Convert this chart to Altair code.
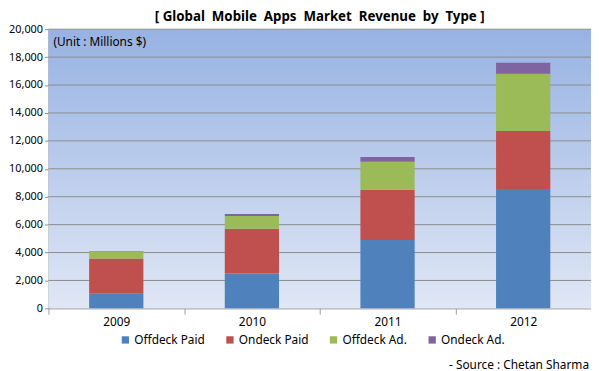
import altair as alt
import pandas as pd

years = ["2009", "2010", "2011", "2012"]
types = ["Offdeck Paid", "Ondeck Paid", "Offdeck Ad.", "Ondeck Ad."]
offdeck_paid = [1050, 2500, 4900, 8550]
ondeck_paid = [2530, 3200, 3600, 4150]
offdeck_ad = [480, 920, 2000, 4100]
ondeck_ad = [40, 140, 350, 800]
colors = ["#4F81BD", "#C0504D", "#9BBB59", "#8064A2"]
y_ticks = list(range(0, 20001, 2000))
title_text = "[ Global\u00a0 Mobile\u00a0 Apps\u00a0 Market\u00a0 Revenue\u00a0 by\u00a0 Type ]"
unit_text = "(Unit : Millions $)"
source_text = "- Source : Chetan Sharma"

series = [offdeck_paid, ondeck_paid, offdeck_ad, ondeck_ad]
rows = []
for i, t in enumerate(types):
    for yr, v in zip(years, series[i]):
        rows.append({"year": yr, "type": t, "value": v, "idx": i})
df = pd.DataFrame(rows)

W, H = 550, 283
FONT = "Noto Sans"

yscale = alt.Scale(domain=[0, 20000], nice=False)
xscale = alt.Scale(domain=years, paddingInner=0, paddingOuter=0)
yaxis = alt.Axis(title=None, values=y_ticks, format=",d", grid=False,
                 domainColor="#8c8c8c", tickColor="#8c8c8c",
                 tickSize=4, labelFontSize=11, labelColor="#000000",
                 labelFont=FONT, labelPadding=2)

bg = alt.Chart(pd.DataFrame({"a": [0]})).mark_rect(
    color=alt.LinearGradient(
        gradient="linear",
        stops=[alt.GradientStop(color="#97b2e3", offset=0),
               alt.GradientStop(color="#e0e7f5", offset=1)],
        x1=0, x2=0, y1=0, y2=1,
    )
).encode(x=alt.value(0), x2=alt.value(W), y=alt.value(0), y2=alt.value(H))

grid = alt.Chart(pd.DataFrame({"value": y_ticks[1:]})).mark_rule(
    color="#8c8c8c", strokeWidth=1
).encode(y=alt.Y("value:Q", scale=yscale, axis=yaxis))

bars = alt.Chart(df).mark_bar(size=55).encode(
    x=alt.X("year:N", scale=xscale, sort=years,
            axis=alt.Axis(title=None, labelAngle=0, tickBand="extent",
                          domainColor="#8c8c8c", tickColor="#a0a0a0",
                          tickSize=6, labelFontSize=12, labelColor="#000000",
                          labelFont=FONT, labelPadding=2)),
    y=alt.Y("value:Q", scale=yscale, stack="zero", axis=yaxis),
    color=alt.Color("type:N", scale=alt.Scale(domain=types, range=colors),
                    legend=alt.Legend(
                        title=None, orient="none", direction="horizontal",
                        legendX=72, legendY=309, symbolType="square",
                        symbolSize=55, symbolStrokeWidth=0, labelFontSize=12,
                        labelFont=FONT, labelColor="#000000", columnPadding=19,
                        labelOffset=3)),
    order=alt.Order("idx:Q", sort="ascending"),
)

title = alt.Chart(pd.DataFrame({"t": [title_text]})).mark_text(
    align="center", baseline="alphabetic", fontSize=13.5, font=FONT,
    fontWeight="bold", color="#000000"
).encode(x=alt.value(W / 2), y=alt.value(-8), text="t:N")

unit = alt.Chart(pd.DataFrame({"t": [unit_text]})).mark_text(
    align="left", baseline="middle", fontSize=12, font=FONT, color="#000000"
).encode(x=alt.value(5), y=alt.value(13), text="t:N")

source = alt.Chart(pd.DataFrame({"t": [source_text]})).mark_text(
    align="right", baseline="middle", fontSize=12, font=FONT, color="#000000"
).encode(x=alt.value(W - 2), y=alt.value(H + 57), text="t:N")

chart = alt.layer(bg, grid, bars, title, unit, source).properties(
    width=W, height=H,
    autosize=alt.AutoSizeParams(type="none"),
    padding={"left": 41, "top": 19, "right": 0, "bottom": 61},
).configure_view(stroke=None)

chart.save("out.html", embed_options={"renderer": "svg", "actions": False})
